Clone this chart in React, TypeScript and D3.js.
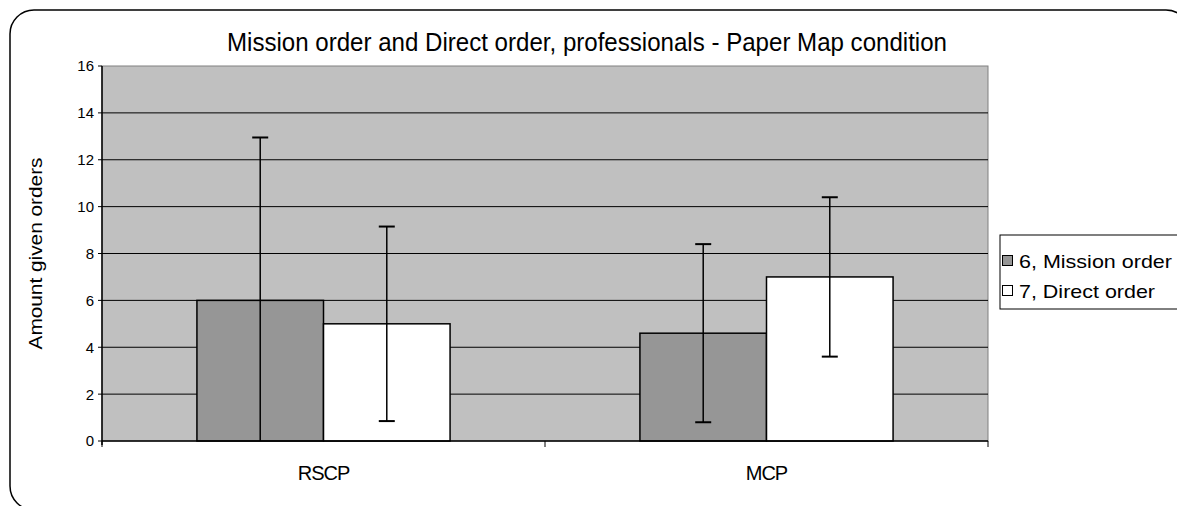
import React from 'react';
import * as d3 from 'd3';

const categories = ['RSCP', 'MCP'];
const seriesNames = ['6, Mission order', '7, Direct order'];
const missionValues = [6.0, 4.6];
const directValues = [5.0, 7.0];
const missionErrors = [6.95, 3.8];
const directErrors = [4.15, 3.4];
const yTicks = [0, 2, 4, 6, 8, 10, 12, 14, 16];
const seriesColors = ['#969696', '#ffffff'];

const width = 1177;
const height = 506;
const plot = { left: 102, right: 988, top: 66, bottom: 441 };
const font = '"Liberation Sans", Arial, sans-serif';

export default function App() {
  const x0 = d3.scaleBand<string>().domain(categories).range([plot.left, plot.right]).paddingInner(0).paddingOuter(0);
  // Excel-style gap width 150%: bars take 2/(2+1.5) of the band
  const barW = x0.bandwidth() / 3.5;
  const y = d3.scaleLinear().domain([0, 16]).range([plot.bottom, plot.top]);

  const series = [
    { values: missionValues, errors: missionErrors, color: seriesColors[0] },
    { values: directValues, errors: directErrors, color: seriesColors[1] },
  ];

  const clampY = (v: number) => y(Math.max(0, Math.min(16, v)));
  const legendWidths = [153, 136];

  return (
    <svg width={width} height={height} style={{ position: 'absolute', left: 0, top: 0, background: '#fff' }} fontFamily={font}>
      {/* outer chart frame */}
      <rect x={10} y={10} width={1180} height={500} rx={24} ry={24} fill="#fff" stroke="#000" strokeWidth={1.5} />

      <text x={587} y={51} textAnchor="middle" fontSize={25} textLength={720} lengthAdjust="spacingAndGlyphs" fill="#000">
        Mission order and Direct order, professionals - Paper Map condition
      </text>

      {/* plot background */}
      <rect x={plot.left} y={plot.top} width={plot.right - plot.left} height={plot.bottom - plot.top} fill="#c0c0c0" stroke="#808080" strokeWidth={1} />

      {/* gridlines */}
      {yTicks.filter((t) => t > 0 && t < 16).map((t) => (
        <line key={t} x1={plot.left} x2={plot.right} y1={y(t)} y2={y(t)} stroke="#000" strokeWidth={1} />
      ))}

      {/* bars */}
      {categories.map((c, i) => {
        const start = x0(c)! + (x0.bandwidth() - 2 * barW) / 2;
        return series.map((s, j) => (
          <rect key={c + j} x={start + j * barW} y={y(s.values[i])} width={barW} height={y(0) - y(s.values[i])}
            fill={s.color} stroke="#000" strokeWidth={1.5} />
        ));
      })}

      {/* error bars */}
      {categories.map((c, i) => {
        const start = x0(c)! + (x0.bandwidth() - 2 * barW) / 2;
        return series.map((s, j) => {
          const cx = start + j * barW + barW / 2;
          const hi = s.values[i] + s.errors[i];
          const lo = s.values[i] - s.errors[i];
          return (
            <g key={'e' + c + j} stroke="#000">
              <line x1={cx} x2={cx} y1={clampY(hi)} y2={clampY(lo)} strokeWidth={1.5} />
              <line x1={cx - 8} x2={cx + 8} y1={y(hi)} y2={y(hi)} strokeWidth={2} />
              {lo >= 0 && <line x1={cx - 8} x2={cx + 8} y1={y(lo)} y2={y(lo)} strokeWidth={2} />}
            </g>
          );
        });
      })}

      {/* axes */}
      <line x1={plot.left} x2={plot.left} y1={plot.top} y2={plot.bottom + 4} stroke="#000" strokeWidth={1.5} />
      <line x1={plot.left} x2={plot.right} y1={plot.bottom} y2={plot.bottom} stroke="#000" strokeWidth={1.5} />
      {yTicks.map((t) => (
        <g key={'t' + t}>
          <line x1={plot.left - 4} x2={plot.left} y1={y(t)} y2={y(t)} stroke="#000" strokeWidth={1} />
          <text x={plot.left - 8} y={y(t)} dy="0.36em" textAnchor="end" fontSize={15} fill="#000">{t}</text>
        </g>
      ))}
      {[plot.left, ...categories.map((c) => x0(c)! + x0.bandwidth())].map((xv, i) => (
        <line key={'c' + i} x1={xv} x2={xv} y1={plot.bottom} y2={plot.bottom + 6} stroke="#000" strokeWidth={1} />
      ))}
      {categories.map((c) => (
        <text key={'l' + c} x={x0(c)! + x0.bandwidth() / 2} y={480} textAnchor="middle" fontSize={20} fill="#000"
          letterSpacing={-1}>{c}</text>
      ))}

      <text transform={`translate(42,${(plot.top + plot.bottom) / 2}) rotate(-90)`} textAnchor="middle" fontSize={19}
        textLength={192} lengthAdjust="spacingAndGlyphs" fill="#000">
        Amount given orders
      </text>

      {/* legend */}
      <rect x={1000} y={235} width={190} height={74} fill="#fff" stroke="#000" strokeWidth={1} />
      {seriesNames.map((n, i) => (
        <g key={n}>
          <rect x={1002.5} y={255.5 + i * 30} width={10} height={10} fill={seriesColors[i]} stroke="#000" strokeWidth={1} />
          <text x={1019} y={268 + i * 30} fontSize={19} textLength={legendWidths[i]} lengthAdjust="spacingAndGlyphs" fill="#000">{n}</text>
        </g>
      ))}
    </svg>
  );
}
